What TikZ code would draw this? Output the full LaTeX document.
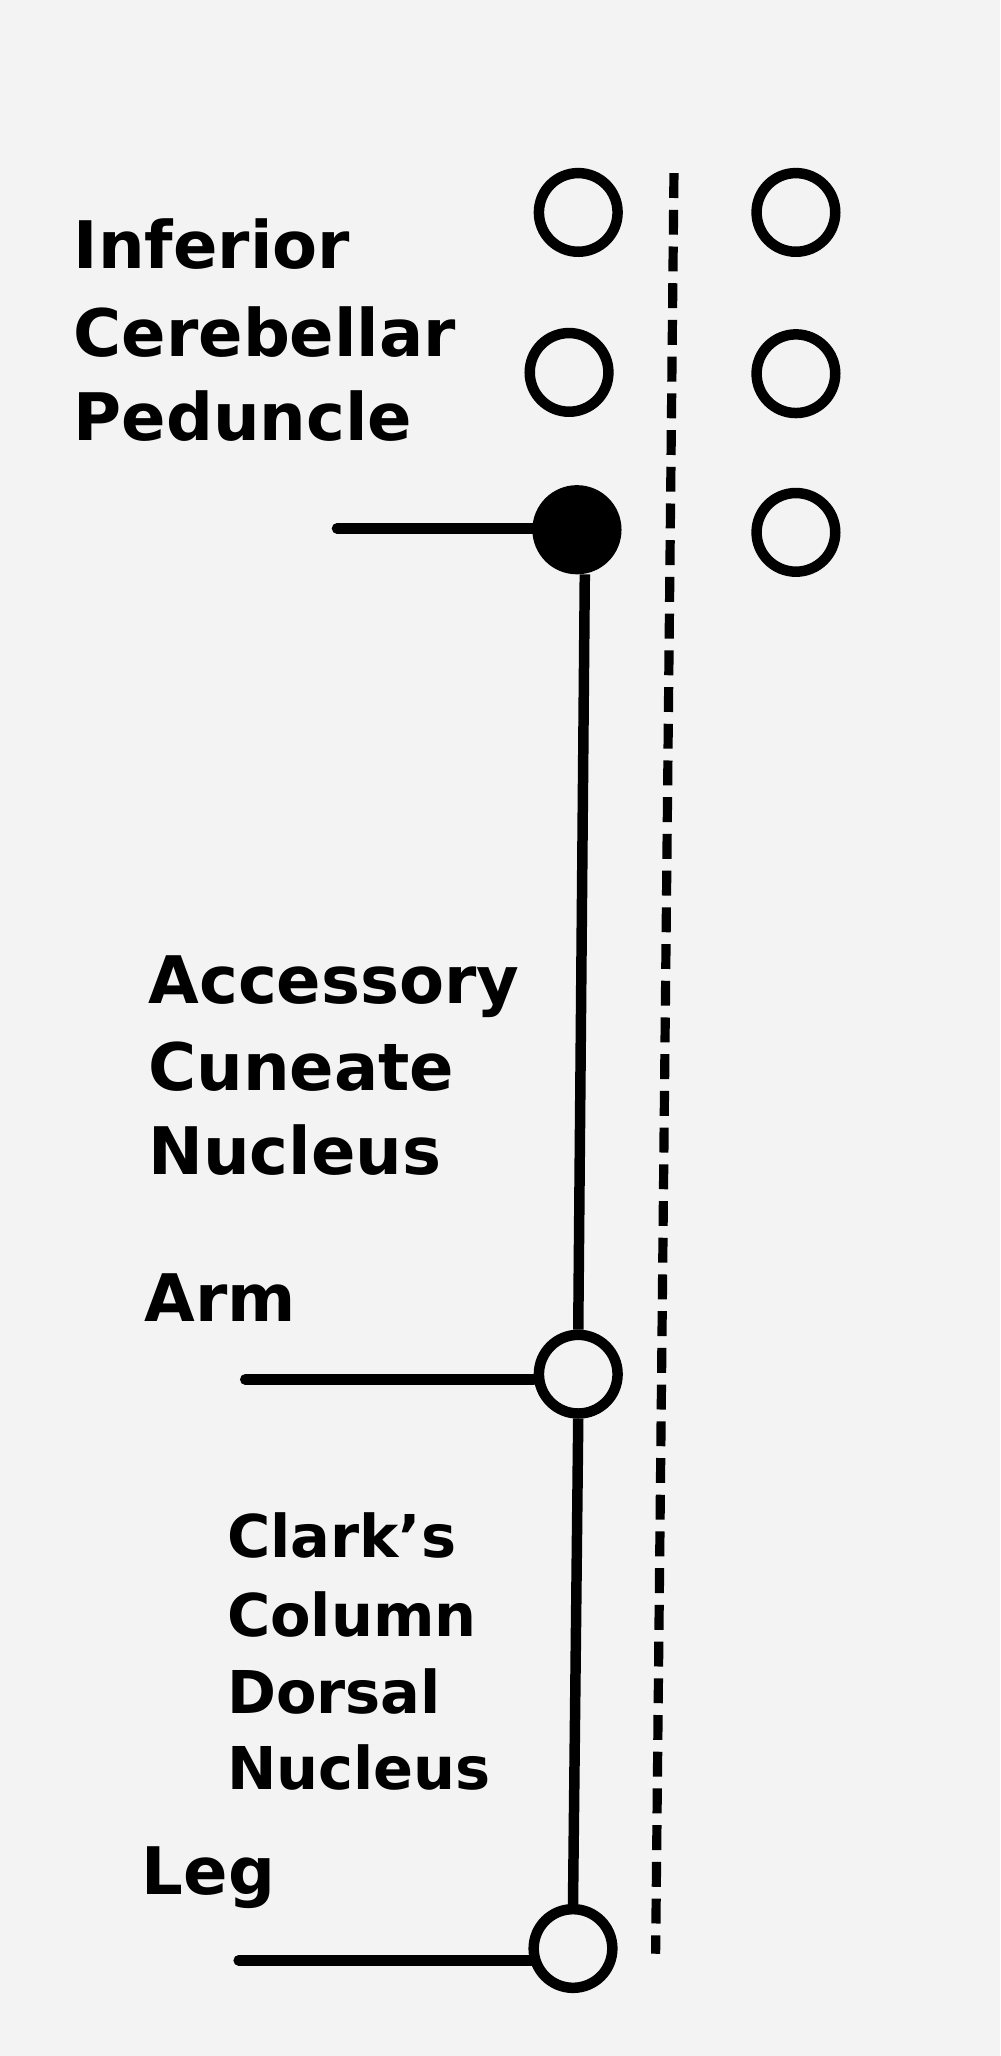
\documentclass[tikz,border=0pt]{standalone}
\usepackage{fontspec}
\setmainfont{DejaVu Sans}[BoldFont={DejaVu Sans Bold}]
\definecolor{bg}{RGB}{243,243,243}
\begin{document}
\begin{tikzpicture}[x=1pt,y=-1pt,
  cell/.style={circle,draw=black,line width=8pt,minimum size=60pt,inner sep=0pt},
  filledcell/.style={cell,fill=black},
  wire/.style={line width=8pt,line cap=round},
  midline/.style={line width=7pt,dash pattern=on 19pt off 9pt},
  lab/.style={anchor=base west,inner sep=0pt,font=\bfseries\fontsize{50}{60}\selectfont},
  smalllab/.style={anchor=base west,inner sep=0pt,font=\bfseries\fontsize{45}{54}\selectfont}]
\fill[bg] (0,0) rectangle (763,1568);
\useasboundingbox (0,0) rectangle (763,1568);
% circles
\node[cell] (l1) at (441,162) {};
\node[cell] (r1) at (607,162) {};
\node[cell] (l2) at (434,284) {};
\node[cell] (r2) at (607,285) {};
\node[filledcell] (fc) at (440,404) {};
\node[cell] (r3) at (607,406) {};
\node[cell] (arm) at (441,1048) {};
\node[cell] (leg) at (437,1486) {};
% midline
\coordinate (dtop) at (514,132);
\coordinate (dbot) at (500,1490);
\draw[midline] (dtop) -- (dbot);
% vertical wires
\draw[wire,line cap=butt] ([xshift=6pt]fc.south) -- (arm.north);
\draw[wire,line cap=butt] (arm.south) -- (leg.north);
% horizontal wires
\coordinate (fcL) at (257,403);
\coordinate (armL) at (187,1052);
\coordinate (legL) at (182,1495);
\draw[wire] (fcL) -- (fcL -| fc.west);
\draw[wire] (armL) -- (armL -| arm.west);
\draw[wire] (legL) -- ([xshift=2pt]legL -| leg.west);
% labels
\node[lab] (t1) at (56,205) {Inferior};
\node[lab] (t2) at (56,272) {Cerebellar};
\node[lab] (t3) at (56,336) {Peduncle};
\node[lab] (t4) at (113,765) {Accessory};
\node[lab] (t5) at (113,832) {Cuneate};
\node[lab] (t6) at (113,896) {Nucleus};
\node[lab] (t7) at (110,1008) {Arm};
\node[smalllab] (t8) at (173,1188) {Clark’s};
\node[smalllab] (t9) at (173,1248) {Column};
\node[smalllab] (t10) at (173,1307) {Dorsal};
\node[smalllab] (t11) at (173,1365) {Nucleus};
\node[lab] (t12) at (108,1445) {Leg};
\end{tikzpicture}
\end{document}
